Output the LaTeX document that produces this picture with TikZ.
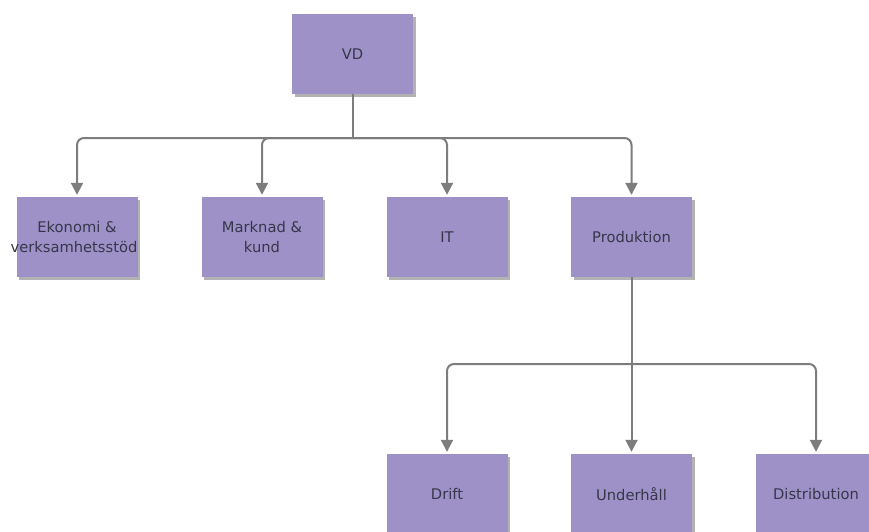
\documentclass[tikz,border=0pt]{standalone}
\usepackage{fontspec}
\setmainfont{DejaVu Sans}
\usetikzlibrary{shadows,arrows.meta}
\definecolor{boxfill}{RGB}{157,145,199}
\definecolor{linegray}{RGB}{125,125,125}
\definecolor{txt}{RGB}{55,55,75}
\tikzset{
  unit/.style={draw=none, fill=boxfill, minimum width=121pt, minimum height=80pt,
    inner sep=0pt, align=center, text=txt,
    font=\fontsize{14.7pt}{20pt}\selectfont,
    drop shadow={shadow xshift=2.5pt, shadow yshift=-2.5pt, fill=black, opacity=0.3}},
  conn/.style={draw=linegray, line width=2pt, rounded corners=7pt},
  arr/.style={conn, -{Triangle[length=12pt, width=12pt]}, shorten >=2pt}
}
\begin{document}
\begin{tikzpicture}[x=1pt, y=-1pt]
\useasboundingbox (0,0) rectangle (869,531);
\clip (0,0) rectangle (869,531);
\fill[white] (0,0) rectangle (869,531);
\node[unit] (vd) at (352.5,54) {VD};
\node[unit] (eko) at (77,237) {Ekonomi \&\\\makebox[0pt]{\hspace*{-6pt}verksamhetsstöd}};
\node[unit] (mark) at (262,237) {Marknad \&\\kund};
\node[unit] (it) at (447,237) {IT};
\node[unit] (prod) at (631.5,237) {Produktion};
\node[unit] (drift) at (447,494) {Drift};
\node[unit] (under) at (631.5,494) {Underhåll};
\node[unit] (dist) at (816,494) {Distribution};
\coordinate (bus) at (352.5,138);
\coordinate (bus2) at (631.5,364);
\draw[conn] (vd.south) -- (bus);
\draw[arr] (bus) -| (eko.north);
\draw[arr] (bus) -| (mark.north);
\draw[arr] (bus) -| (it.north);
\draw[arr] (bus) -| (prod.north);
\draw[arr] (prod.south) -- (under.north);
\draw[arr] (bus2) -| (drift.north);
\draw[arr] (bus2) -| (dist.north);
\end{tikzpicture}
\end{document}
